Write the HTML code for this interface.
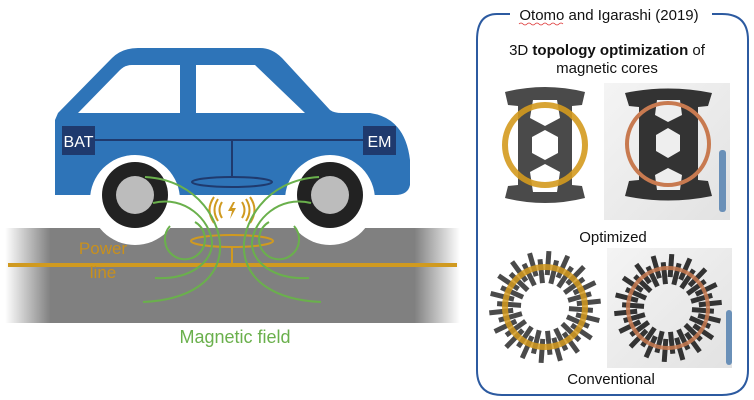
<!DOCTYPE html>
<html><head><meta charset="utf-8"><style>
html,body{margin:0;padding:0;background:#fff;}
svg{display:block;}
text{font-family:"Liberation Sans",sans-serif;}
</style></head><body>
<svg width="754" height="400" viewBox="0 0 754 400" xmlns="http://www.w3.org/2000/svg">
<defs>
<linearGradient id="road" x1="0" x2="1" y1="0" y2="0">
<stop offset="0" stop-color="#808080" stop-opacity="0"/>
<stop offset="0.1" stop-color="#808080" stop-opacity="1"/>
<stop offset="0.9" stop-color="#808080" stop-opacity="1"/>
<stop offset="1" stop-color="#808080" stop-opacity="0"/>
</linearGradient>
<linearGradient id="photo" x1="0" x2="1" y1="0" y2="1">
<stop offset="0" stop-color="#f4f4f4"/><stop offset="1" stop-color="#e2e2e2"/>
</linearGradient>
</defs>
<rect x="5" y="228" width="455" height="95" fill="url(#road)"/>
<path d="M58,113 L112,58 Q122,48 138,48 L260,48 Q272,48 282,58 L330,110 Q334,113 342,113 L370,113 Q405,118 410,160 L410,185 Q408,195 395,195 L55,195 L55,120 Z" fill="#2e74b8"/>
<path d="M78,113 L120,70 Q125,65 132,65 L180,65 L180,113 Z" fill="#fff"/>
<path d="M196,65 L255,65 L305,113 L196,113 Z" fill="#fff"/>
<circle cx="135" cy="200" r="45" fill="#fff"/>
<circle cx="330" cy="200" r="45" fill="#fff"/>
<rect x="85" y="195" width="300" height="33" fill="#fff"/>
<circle cx="135" cy="195" r="33" fill="#222"/><circle cx="135" cy="195" r="19" fill="#bcbcbc"/>
<circle cx="330" cy="195" r="33" fill="#222"/><circle cx="330" cy="195" r="19" fill="#bcbcbc"/>
<line x1="95" y1="140" x2="363" y2="140" stroke="#1f3a6e" stroke-width="2"/>
<line x1="232" y1="140" x2="232" y2="178" stroke="#1f3a6e" stroke-width="2"/>
<ellipse cx="232" cy="182" rx="40" ry="5" fill="none" stroke="#1f3a6e" stroke-width="2"/>
<rect x="62" y="126" width="33" height="29" fill="#1f3a6e"/>
<rect x="363" y="126" width="33" height="29" fill="#1f3a6e"/>
<text x="78.5" y="147" font-size="16" fill="#fff" text-anchor="middle">BAT</text>
<text x="379.5" y="147" font-size="16" fill="#fff" text-anchor="middle">EM</text>
<line x1="8" y1="265" x2="457" y2="265" stroke="#d09a20" stroke-width="4"/>
<ellipse cx="232" cy="241" rx="41" ry="6" fill="none" stroke="#d09a20" stroke-width="2"/>
<line x1="232" y1="247" x2="232" y2="265" stroke="#d09a20" stroke-width="2"/>
<text x="103" y="254" font-size="17" fill="#c8901c" text-anchor="middle">Power</text>
<text x="103" y="278" font-size="17" fill="#c8901c" text-anchor="middle">line</text>
<g fill="none" stroke="#d09a20" stroke-width="2">
<path d="M222,202 Q217,210 222,218"/><path d="M218,199 Q211,210 218,221"/><path d="M214,197 Q205,210 214,223"/>
<path d="M242,202 Q247,210 242,218"/><path d="M246,199 Q253,210 246,221"/><path d="M250,197 Q259,210 250,223"/>
</g>
<path d="M233,202 L228,211 L232,211 L230,219 L236,208 L232,208 L235,202Z" fill="#d09a20"/>
<g fill="none" stroke="#6ab04c" stroke-width="2">
<path d="M145,177 C200,180 222,225 220,250 C218,280 190,300 143,302"/>
<path d="M153,203 C185,195 210,220 212,242 C213,262 190,280 155,278"/>
<path d="M195,222 A20,20 0 1 1 170,226"/>
<path d="M319,177 C264,180 242,225 244,250 C246,280 274,300 321,302"/>
<path d="M311,203 C279,195 254,220 252,242 C251,262 274,280 309,278"/>
<path d="M269,222 A20,20 0 1 0 294,226"/>
</g>
<text x="235" y="343" font-size="18" fill="#6ab04c" text-anchor="middle">Magnetic field</text>

<path d="M510,14 L497,14 Q477,14 477,40 L477,370 Q477,395 502,395 L722,395 Q748,395 748,370 L748,40 Q748,14 722,14 L712,14" fill="none" stroke="#2c5aa0" stroke-width="2"/>
<text x="609" y="20" font-size="15" fill="#111" text-anchor="middle">Otomo and Igarashi (2019)</text>
<path d="M519,24 q2,-2 4,0 q2,2 4,0 q2,-2 4,0 q2,2 4,0 q2,-2 4,0 q2,2 4,0 q2,-2 4,0 q2,2 4,0 q2,-2 4,0 q2,2 4,0 q2,-2 4,0" fill="none" stroke="#d33" stroke-width="0.8"/>
<text x="607" y="55" font-size="15" fill="#111" text-anchor="middle">3D <tspan font-weight="bold">topology optimization</tspan> of</text>
<text x="607" y="73" font-size="15" fill="#111" text-anchor="middle">magnetic cores</text>

<g>
<path d="M505,92 Q545,82 585,92 L582,105 L572,106 L572,185 L582,186 L585,198 Q545,208 505,198 L508,186 L518,185 L518,106 L508,105 Z" fill="#4a4a4a"/>
<path d="M533,100 L557,100 L560,118 L545,126 L530,118Z" fill="#fff"/>
<path d="M533,192 L557,192 L560,172 L545,164 L530,172Z" fill="#fff"/>
<polygon points="545,130 558,137 558,153 545,160 532,153 532,137" fill="#fff"/>
<circle cx="545" cy="145" r="40" fill="none" stroke="#d49a1e" stroke-width="6" opacity="0.9"/>
</g>
<rect x="604" y="83" width="126" height="137" fill="url(#photo)"/>
<g>
<path d="M625,93 Q668,84 712,93 L708,106 L698,107 L698,180 L708,181 L712,196 Q668,205 625,196 L629,181 L639,180 L639,107 L629,106 Z" fill="#333"/>
<polygon points="668,128 680,135 680,151 668,158 656,151 656,135" fill="#eee"/>
<path d="M657,100 L680,100 L682,115 L668,122 L655,115Z" fill="#eee"/>
<path d="M657,190 L680,190 L682,175 L668,168 L655,175Z" fill="#eee"/>
<circle cx="668" cy="144" r="41" fill="none" stroke="#c87a50" stroke-width="4"/>
<rect x="719" y="150" width="7" height="62" rx="3" fill="#6a90b8"/>
</g>
<text x="613" y="242" font-size="15" fill="#111" text-anchor="middle">Optimized</text>

<g id="convL"></g>
<rect x="607" y="248" width="125" height="120" fill="url(#photo)"/>
<g id="convR"></g>
<rect x="726" y="310" width="6" height="55" rx="3" fill="#6a90b8"/>
<text x="611" y="384" font-size="15" fill="#111" text-anchor="middle">Conventional</text>
</svg>
<script>
function bars(id,cx,cy,ra,rb,outA,outB,w,n,col,ring,rr,rw){
 var g=document.getElementById(id),s='';
 for(var i=0;i<n;i++){var a=360*i/n+4;var r1=(i%2)?rb:ra;var r2=(i%2)?outB:outA;
  s+='<rect x="'+(cx+r1)+'" y="'+(cy-w/2)+'" width="'+(r2-r1)+'" height="'+w+'" fill="'+col+'" transform="rotate('+a+' '+cx+' '+cy+')"/>';}
 s+='<circle cx="'+cx+'" cy="'+cy+'" r="'+rr+'" fill="none" stroke="'+ring+'" stroke-width="'+rw+'" opacity="0.85"/>';
 g.innerHTML=s;
}
bars('convL',545,307,24,32,48,56,5,36,'#4a4a4a','#d49a1e',40,6);
bars('convR',668,308,24,31,46,54,5,36,'#333','#c87a50',40,4);
</script>
</body></html>
